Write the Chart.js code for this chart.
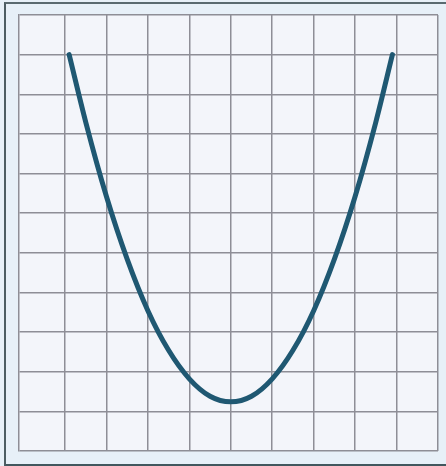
<!DOCTYPE html>
<html>
<head>
<meta charset="utf-8">
<script src="https://cdn.jsdelivr.net/npm/chart.js@4/dist/chart.umd.min.js"></script>
<style>
  html, body { margin: 0; padding: 0; background: #e7f0f8; }
  #frame { position: absolute; left: 4px; top: 2px; width: 442px; height: 460px;
           border-left: 2px solid #4d5d63; border-top: 2px solid #5a6a70; border-bottom: 3px solid #41575e; }
  #wrap { position: absolute; left: 0; top: 0; width: 446px; height: 466px; }
</style>
</head>
<body>
<div id="frame"></div>
<div id="wrap"><canvas id="c" width="446" height="466"></canvas></div>
<script>
// values (grid units; first column is slightly wider in the photo)
const xValues = [0.1, 0.5, 1, 1.5, 2, 2.5, 3, 3.5, 4, 4.5, 5, 5.5, 6, 6.5, 7, 7.5, 7.9];
const yValues = [10.0, 8.3, 6.42, 4.84, 3.54, 2.54, 1.82, 1.38, 1.24, 1.38, 1.82, 2.54, 3.54, 4.84, 6.42, 8.3, 10.0];
const xTicks = [0, 1, 2, 3, 4, 5, 6, 7, 8, 9];
const yTicks = [0, 1, 2, 3, 4, 5, 6, 7, 8, 9, 10, 11];
const xMin = -1.11;

const points = xValues.map((x, i) => ({ x: x, y: yValues[i] }));

const areaBg = {
  id: 'areaBg',
  beforeDraw(chart) {
    const { ctx, chartArea: a } = chart;
    ctx.save();
    ctx.fillStyle = '#f3f5fa';
    ctx.fillRect(a.left, a.top, a.right - a.left, a.bottom - a.top);
    ctx.restore();
  }
};

const gridCol = '#8e8e96';

new Chart(document.getElementById('c'), {
  type: 'line',
  data: {
    datasets: [{
      data: points,
      borderColor: '#1f5872',
      borderWidth: 5,
      pointRadius: 0,
      cubicInterpolationMode: 'monotone',
      fill: false,
      borderCapStyle: 'round'
    }]
  },
  options: {
    responsive: false,
    animation: false,
    layout: { padding: { left: 19, top: 15, right: 8, bottom: 15 } },
    plugins: { legend: { display: false }, tooltip: { enabled: false } },
    scales: {
      x: {
        type: 'linear', min: xMin, max: xTicks[xTicks.length - 1],
        afterBuildTicks: s => { s.ticks = xTicks.map(v => ({ value: v })); },
        ticks: { display: false },
        grid: { color: gridCol, lineWidth: 1.5, drawTicks: false },
        border: { display: false }
      },
      y: {
        type: 'linear', min: yTicks[0], max: yTicks[yTicks.length - 1],
        afterBuildTicks: s => { s.ticks = yTicks.map(v => ({ value: v })); },
        ticks: { display: false },
        grid: { color: gridCol, lineWidth: 1.5, drawTicks: false },
        border: { display: true, color: gridCol, width: 1.5 }
      }
    }
  },
  plugins: [areaBg]
});
</script>
</body>
</html>
